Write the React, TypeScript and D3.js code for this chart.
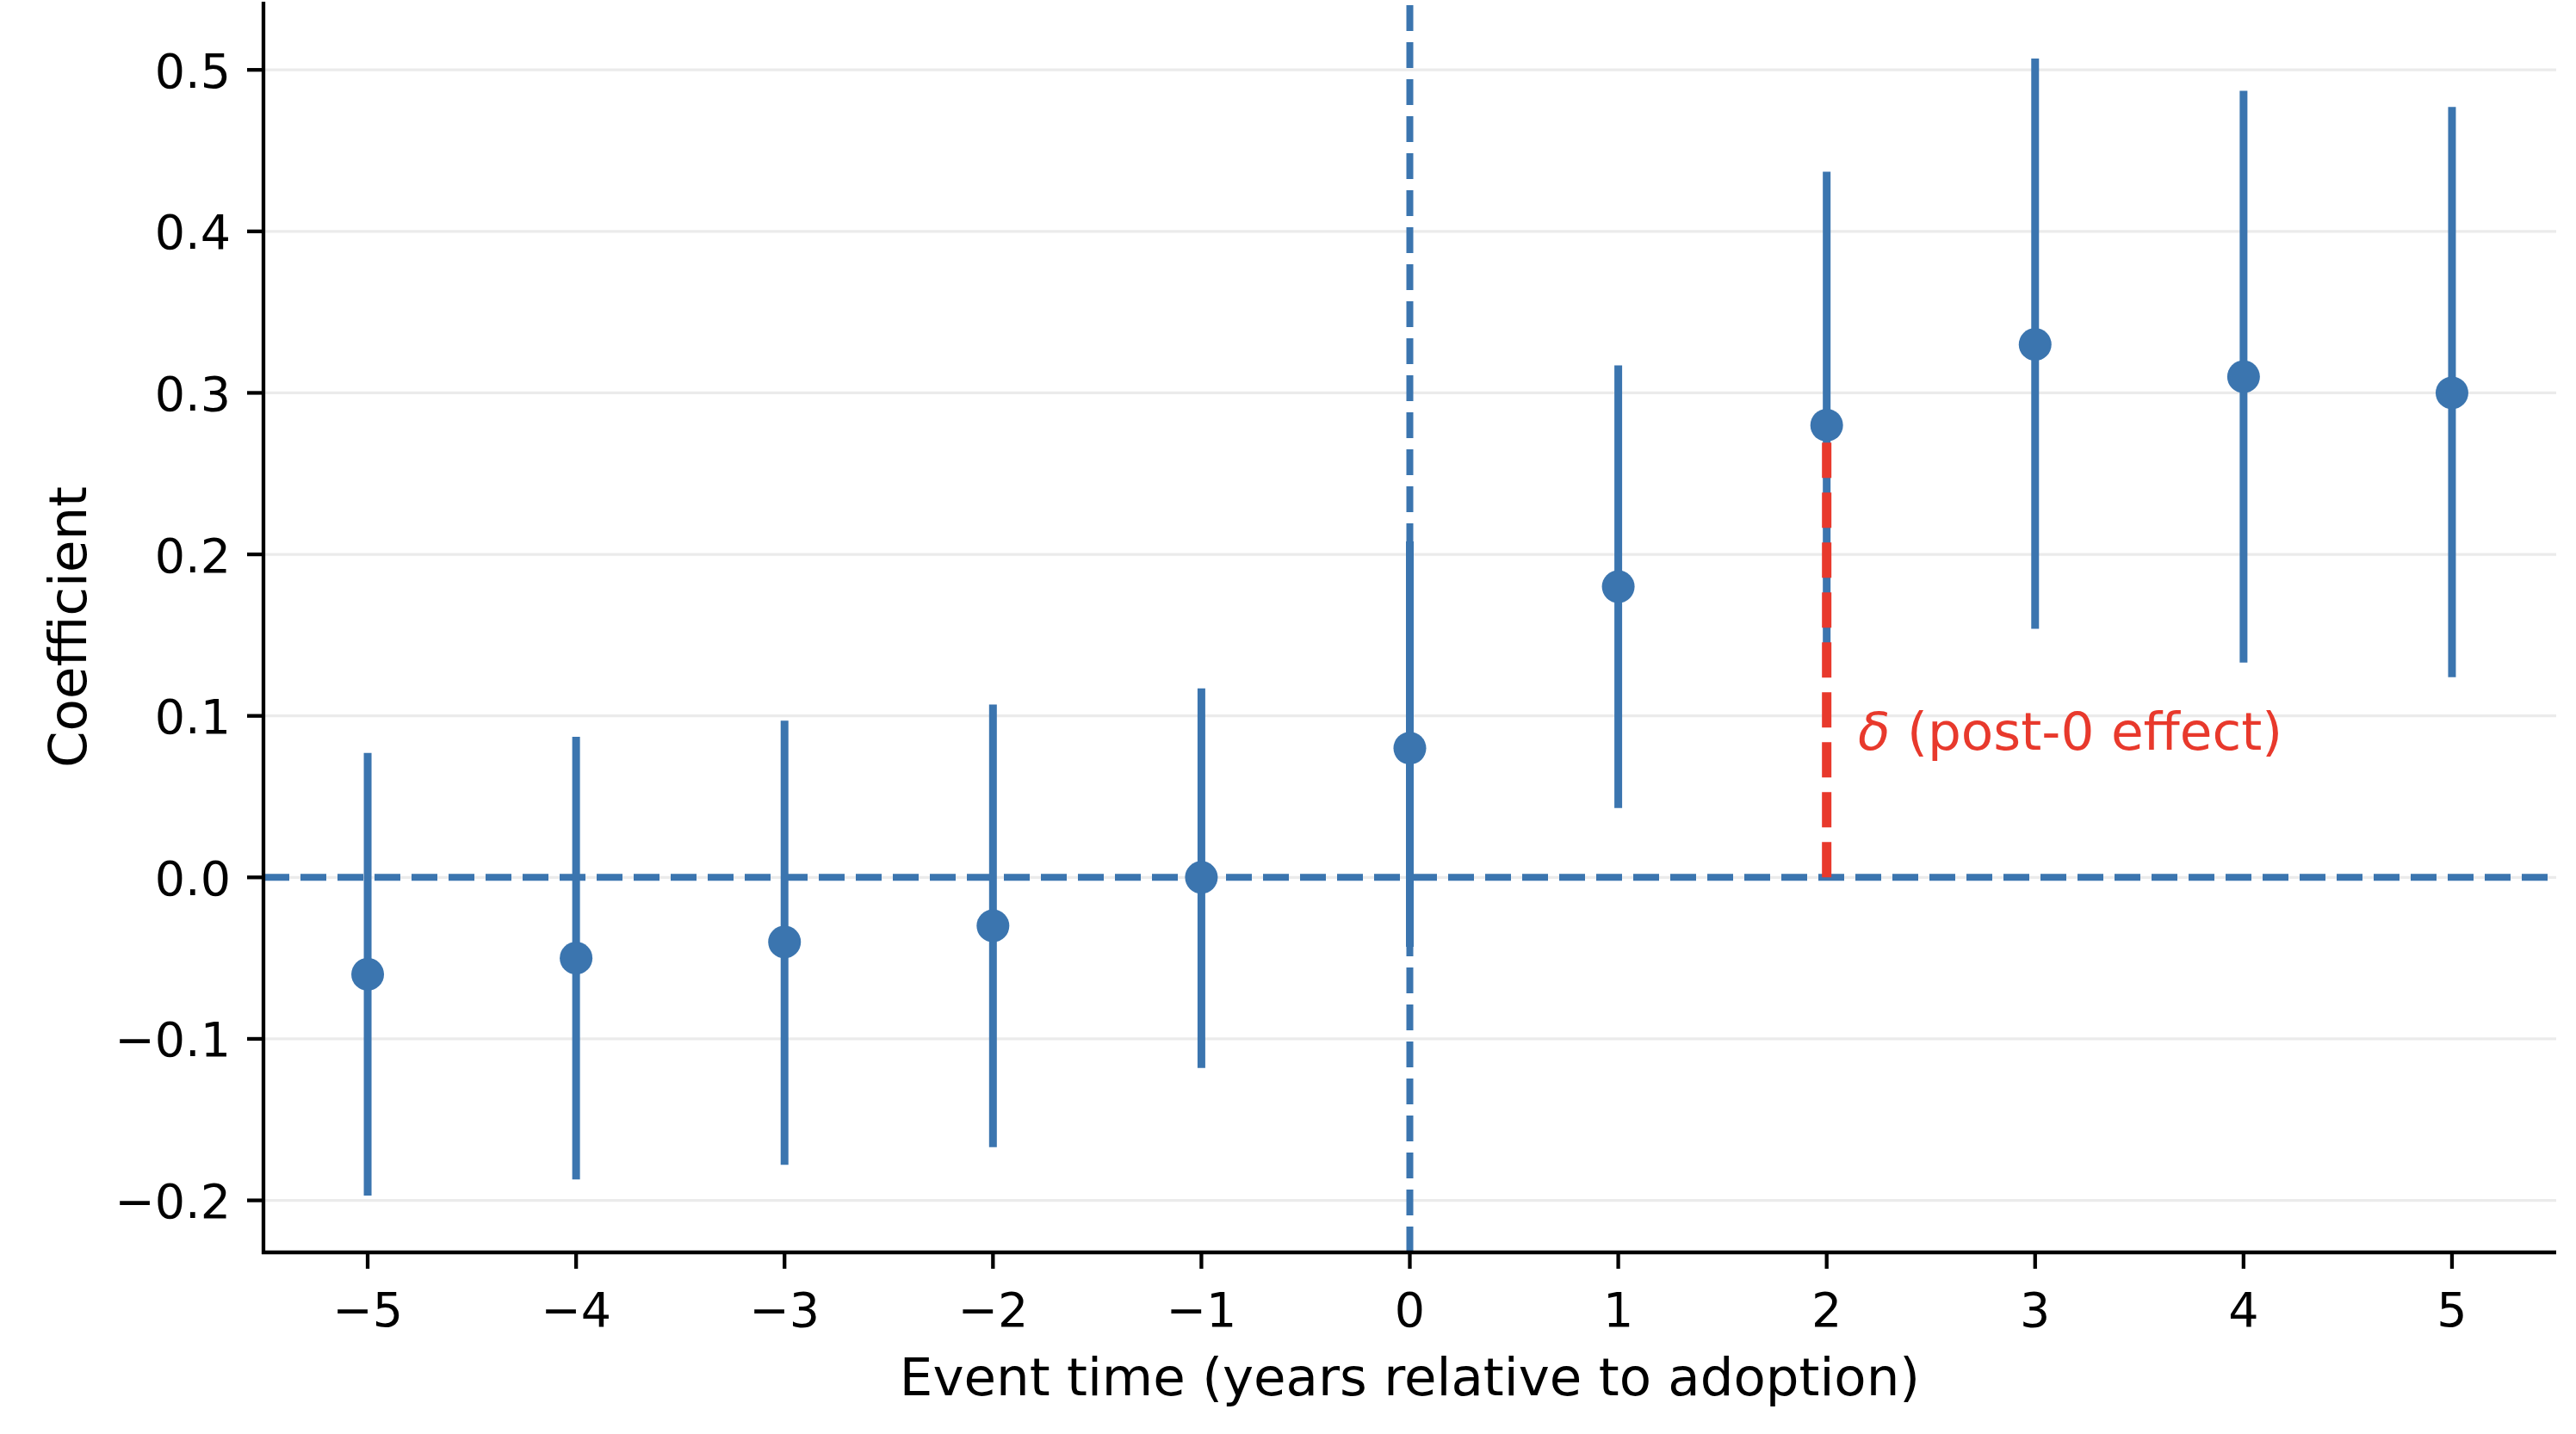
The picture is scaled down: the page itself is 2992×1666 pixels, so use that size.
import * as d3 from 'd3';
import React from 'react';

// event-study estimates
const eventTimes = [-5, -4, -3, -2, -1, 0, 1, 2, 3, 4, 5];
const coefs = [-0.06, -0.05, -0.04, -0.03, 0.0, 0.08, 0.18, 0.28, 0.33, 0.31, 0.3];
const ciLow = [-0.197, -0.187, -0.178, -0.167, -0.118, -0.043, 0.043, 0.124, 0.154, 0.133, 0.124];
const ciHigh = [0.077, 0.087, 0.097, 0.107, 0.117, 0.208, 0.317, 0.437, 0.507, 0.487, 0.477];

const yTicks = [-0.2, -0.1, 0.0, 0.1, 0.2, 0.3, 0.4, 0.5];
const xTicks = [-5, -4, -3, -2, -1, 0, 1, 2, 3, 4, 5];

const deltaAt = 2;
const deltaValue = 0.28;
const deltaLabel = ' (post-0 effect)';
const deltaLabelPos = { x: 2.15, y: 0.09 };

const xLabel = 'Event time (years relative to adoption)';
const yLabel = 'Coefficient';

const BLUE = '#3b75af';
const RED = '#e8392c';
const FONT = '"DejaVu Sans", sans-serif';

function App(): any {
  const width = 2992;
  const height = 1666;
  const margin = { top: 2, right: 23, bottom: 211, left: 306 };

  const lo = d3.min(ciLow) || 0;
  const hi = d3.max(ciHigh) || 0;
  const pad = (hi - lo) * 0.05;

  const xScale = d3
    .scaleLinear()
    .domain([-5.5, 5.5])
    .range([margin.left, width - margin.right]);

  const yScale = d3
    .scaleLinear()
    .domain([lo - pad, hi + pad])
    .range([height - margin.bottom, margin.top]);

  const fmtY = d3.format('.1f');
  const fmtX = d3.format('d');

  const x0 = margin.left;
  const x1 = width - margin.right;
  const yBottom = height - margin.bottom;
  const yTop = margin.top;

  return (
    <div>
      <style>{'body{margin:0}'}</style>
      <svg width={width} height={height} style={{ display: 'block', background: '#fff' }} fontFamily={FONT}>
        {/* grid */}
        <g className="grid">
          {yTicks.map((t) => (
            <line key={t} x1={x0} x2={x1} y1={yScale(t)} y2={yScale(t)} stroke="#ebebeb" strokeWidth={3.2} />
          ))}
        </g>

        {/* reference lines */}
        <line x1={x0} x2={x1} y1={yScale(0)} y2={yScale(0)} stroke={BLUE} strokeWidth={8} strokeDasharray="30 13" />
        <line x1={xScale(0)} x2={xScale(0)} y1={yBottom} y2={yTop} stroke={BLUE} strokeWidth={8} strokeDasharray="30 13" />

        {/* error bars */}
        <g className="errorbars">
          {eventTimes.map((t, i) => (
            <line key={t} x1={xScale(t)} x2={xScale(t)} y1={yScale(ciLow[i])} y2={yScale(ciHigh[i])} stroke={BLUE} strokeWidth={9} />
          ))}
        </g>

        {/* delta marker */}
        <line
          x1={xScale(deltaAt)}
          x2={xScale(deltaAt)}
          y1={yScale(0)}
          y2={yScale(deltaValue)}
          stroke={RED}
          strokeWidth={11}
          strokeDasharray="41 17"
        />

        {/* point estimates */}
        <g className="points">
          {eventTimes.map((t, i) => (
            <circle key={t} cx={xScale(t)} cy={yScale(coefs[i])} r={19} fill={BLUE} />
          ))}
        </g>

        <text x={xScale(deltaLabelPos.x)} y={yScale(deltaLabelPos.y) + 21} fill={RED} fontSize={61.3}>
          <tspan fontStyle="italic">δ</tspan>
          {deltaLabel}
        </text>

        {/* spines */}
        <line x1={x0} x2={x0} y1={yTop} y2={yBottom + 2} stroke="#000" strokeWidth={4.3} />
        <line x1={x0 - 2} x2={x1} y1={yBottom} y2={yBottom} stroke="#000" strokeWidth={4.3} />

        {/* y axis */}
        <g className="axisLeft">
          {yTicks.map((t) => (
            <g key={t}>
              <line x1={x0 - 19} x2={x0} y1={yScale(t)} y2={yScale(t)} stroke="#000" strokeWidth={4.3} />
              <text x={x0 - 38} y={yScale(t) + 20.5} textAnchor="end" fontSize={55.5} fill="#000">
                {fmtY(t)}
              </text>
            </g>
          ))}
        </g>

        {/* x axis */}
        <g className="axisBottom">
          {xTicks.map((t) => (
            <g key={t}>
              <line x1={xScale(t)} x2={xScale(t)} y1={yBottom} y2={yBottom + 19} stroke="#000" strokeWidth={4.3} />
              <text x={xScale(t)} y={1541} textAnchor="middle" fontSize={55.5} fill="#000">
                {fmtX(t)}
              </text>
            </g>
          ))}
        </g>

        <text x={(x0 + x1) / 2} y={1621} textAnchor="middle" fontSize={61} fill="#000">
          {xLabel}
        </text>
        <text
          transform={'translate(100,' + (yTop + yBottom) / 2 + ') rotate(-90)'}
          textAnchor="middle"
          fontSize={61}
          fill="#000"
        >
          {yLabel}
        </text>
      </svg>
    </div>
  );
}

export default App;
